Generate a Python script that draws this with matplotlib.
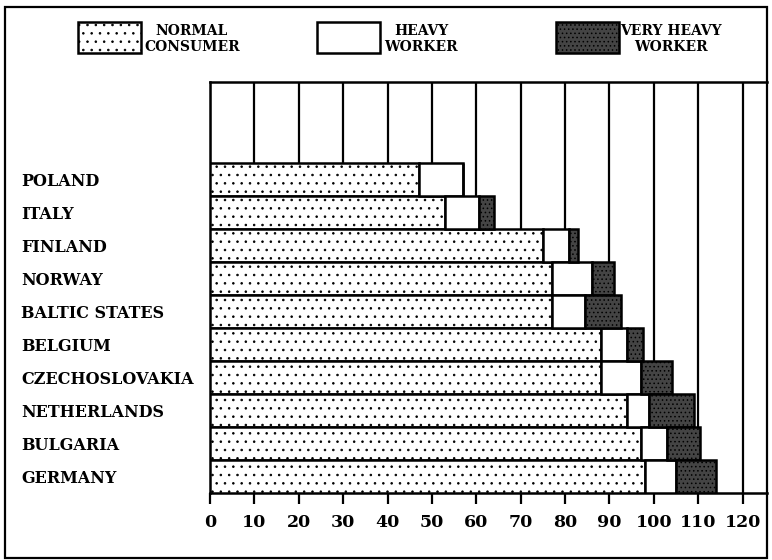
import matplotlib
matplotlib.use("Agg")
import matplotlib.pyplot as plt
from matplotlib.patches import Rectangle

countries = ['POLAND', 'ITALY', 'FINLAND', 'NORWAY', 'BALTIC STATES', 'BELGIUM',
             'CZECHOSLOVAKIA', 'NETHERLANDS', 'BULGARIA', 'GERMANY']
normal = [47, 53, 75, 77, 77, 88, 88, 94, 97, 98]
heavy = [10, 7.5, 6, 9, 7.5, 6, 9, 5, 6, 7]
very_heavy = [0, 3.5, 2, 5, 8, 3.5, 7, 10, 7.5, 9]
xticks = list(range(0, 121, 10))

plt.rcParams['hatch.linewidth'] = 0.6
plt.rcParams['font.family'] = ['DejaVu Serif']

W, H = 772, 560
fig = plt.figure(figsize=(W / 100, H / 100), dpi=100)
ax = fig.add_axes([210 / W, 1 - 493 / H, (767 - 210) / W, (493 - 82) / H])

# top row first
ypos = list(range(len(countries) - 1, -1, -1))
left2 = [a + b for a, b in zip(normal, heavy)]

ax.barh(ypos, normal, height=1.0, color='white', edgecolor='black',
        linewidth=1.8, hatch='..', zorder=3)
ax.barh(ypos, heavy, left=normal, height=1.0, color='white', edgecolor='black',
        linewidth=1.8, zorder=3)
ax.barh(ypos, very_heavy, left=left2, height=1.0, color='#444444',
        edgecolor='black', linewidth=1.8, hatch='....', zorder=3)

ax.set_xlim(0, 125.5)
ax.set_ylim(-0.5, 11.95)
ax.set_xticks(xticks)
ax.set_xticklabels([str(t) for t in xticks], fontsize=12.5, fontweight='bold')
ax.tick_params(axis='x', direction='out', length=8, width=1.6, pad=7)
ax.grid(axis='x', color='black', linewidth=1.6, zorder=1)
ax.set_axisbelow(True)

ax.set_yticks(ypos)
ax.set_yticklabels(countries, fontsize=11.5, fontweight='bold', ha='left')
ax.tick_params(axis='y', length=0, pad=136)

for s in ['left', 'top', 'bottom']:
    ax.spines[s].set_linewidth(1.8)
ax.spines['right'].set_visible(False)

# outer frame
fig.patches.append(Rectangle((5 / W, 1 - 558 / H), (767 - 5) / W, (558 - 7) / H,
                             transform=fig.transFigure, fill=False,
                             edgecolor='black', linewidth=1.6))

# legend along the top
legend = [
    (78, 'NORMAL\nCONSUMER', 'white', '..', 192),
    (317, 'HEAVY\nWORKER', 'white', None, 421),
    (556, 'VERY HEAVY\nWORKER', '#444444', '....', 671),
]
for x0, label, fc, hatch, tx in legend:
    fig.patches.append(Rectangle((x0 / W, 1 - 53 / H), 63 / W, 31 / H,
                                 transform=fig.transFigure, facecolor=fc,
                                 edgecolor='black', linewidth=1.8, hatch=hatch))
    fig.text(tx / W, 1 - 39 / H, label, ha='center', va='center',
             multialignment='center', fontsize=10, fontweight='bold',
             linespacing=1.1)

fig.savefig('out.png', dpi=100)
